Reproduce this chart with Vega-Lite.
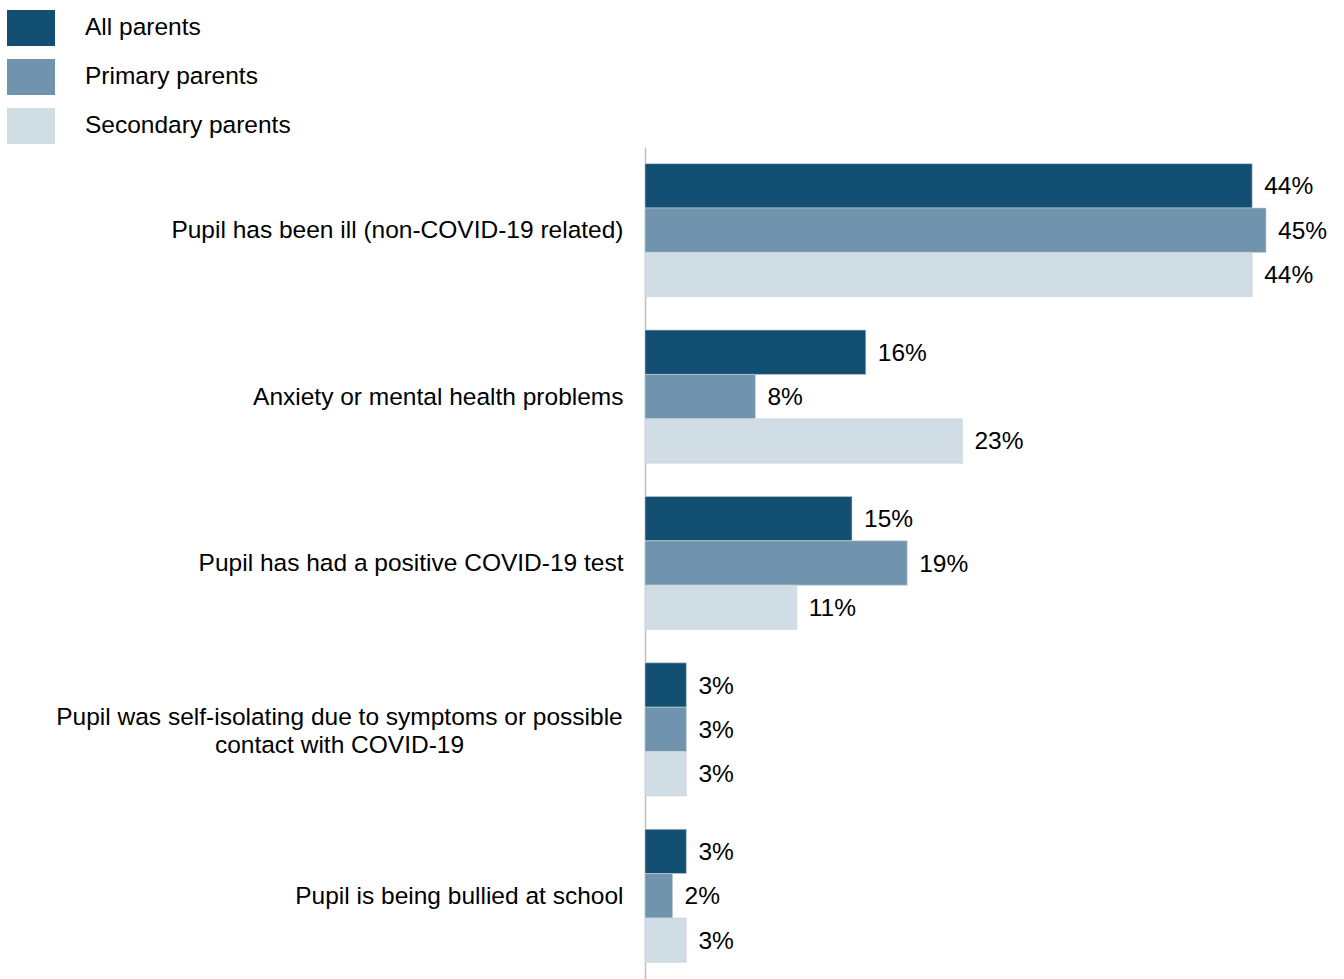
{
  "$schema": "https://vega.github.io/schema/vega-lite/v6.json",
  "autosize": {"type": "none"},
  "padding": {"left": 645, "top": 147, "right": 0, "bottom": 0},
  "width": 690,
  "height": 832,
  "background": "white",
  "config": {"view": {"stroke": null}, "font": "Liberation Sans"},
  "data": {"values": [
    {"reason": "Pupil has been ill (non-COVID-19 related)", "group": "All parents", "pct": 0.44},
    {"reason": "Pupil has been ill (non-COVID-19 related)", "group": "Primary parents", "pct": 0.45},
    {"reason": "Pupil has been ill (non-COVID-19 related)", "group": "Secondary parents", "pct": 0.44},
    {"reason": "Anxiety or mental health problems", "group": "All parents", "pct": 0.16},
    {"reason": "Anxiety or mental health problems", "group": "Primary parents", "pct": 0.08},
    {"reason": "Anxiety or mental health problems", "group": "Secondary parents", "pct": 0.23},
    {"reason": "Pupil has had a positive COVID-19 test", "group": "All parents", "pct": 0.15},
    {"reason": "Pupil has had a positive COVID-19 test", "group": "Primary parents", "pct": 0.19},
    {"reason": "Pupil has had a positive COVID-19 test", "group": "Secondary parents", "pct": 0.11},
    {"reason": "Pupil was self-isolating due to symptoms or possible contact with COVID-19", "group": "All parents", "pct": 0.03},
    {"reason": "Pupil was self-isolating due to symptoms or possible contact with COVID-19", "group": "Primary parents", "pct": 0.03},
    {"reason": "Pupil was self-isolating due to symptoms or possible contact with COVID-19", "group": "Secondary parents", "pct": 0.03},
    {"reason": "Pupil is being bullied at school", "group": "All parents", "pct": 0.03},
    {"reason": "Pupil is being bullied at school", "group": "Primary parents", "pct": 0.02},
    {"reason": "Pupil is being bullied at school", "group": "Secondary parents", "pct": 0.03}
  ]},
  "encoding": {
    "y": {
      "field": "reason",
      "type": "nominal",
      "sort": null,
      "scale": {"paddingInner": 0.2, "paddingOuter": 0.1},
      "axis": {
        "title": null,
        "ticks": false,
        "domainColor": "#bfbfbf",
        "domainWidth": 1.5,
        "labelFont": "Liberation Sans",
        "labelFontSize": 24.5,
        "labelColor": "#000000",
        "labelLimit": 700,
        "labelLineHeight": 28,
        "labelAlign": {"condition": {"test": "indexof(datum.value, 'self-isolating') >= 0", "value": "center"}, "value": "right"},
        "labelPadding": {"condition": {"test": "indexof(datum.value, 'self-isolating') >= 0", "value": 306}, "value": 22},
        "labelOffset": {"condition": {"test": "indexof(datum.value, 'self-isolating') >= 0", "value": -11}, "value": 1},
        "labelExpr": "indexof(datum.value, 'self-isolating') >= 0 ? ['Pupil was self-isolating due to symptoms or possible', 'contact with COVID-19'] : datum.label"
      }
    },
    "yOffset": {"field": "group", "type": "nominal", "sort": ["All parents", "Primary parents", "Secondary parents"]},
    "x": {
      "field": "pct",
      "type": "quantitative",
      "scale": {"domain": [0, 0.5], "nice": false},
      "axis": null
    }
  },
  "layer": [
    {
      "mark": {"type": "bar", "stroke": "#c8d0d6", "strokeWidth": 0.6},
      "encoding": {
        "color": {
          "field": "group",
          "type": "nominal",
          "scale": {"domain": ["All parents", "Primary parents", "Secondary parents"], "range": ["#124f73", "#7094ad", "#d0dde5"]},
          "legend": {
            "title": null,
            "orient": "none",
            "legendX": -638,
            "legendY": -143,
            "symbolType": "M-1,-0.75H1V0.75H-1Z",
            "symbolSize": 2304,
            "symbolStrokeWidth": 0,
            "labelFont": "Liberation Sans",
            "labelFontSize": 24.5,
            "labelColor": "#000000",
            "labelOffset": 30,
            "rowPadding": 7,
            "padding": 0,
            "labelLimit": 400
          }
        }
      }
    },
    {
      "mark": {"type": "text", "align": "left", "baseline": "middle", "dx": 12, "dy": 1.5, "fontSize": 24.5, "font": "Liberation Sans", "color": "#000000"},
      "encoding": {
        "text": {"field": "pct", "type": "quantitative", "format": ".0%"},
        "detail": {"field": "group"}
      }
    }
  ]
}
